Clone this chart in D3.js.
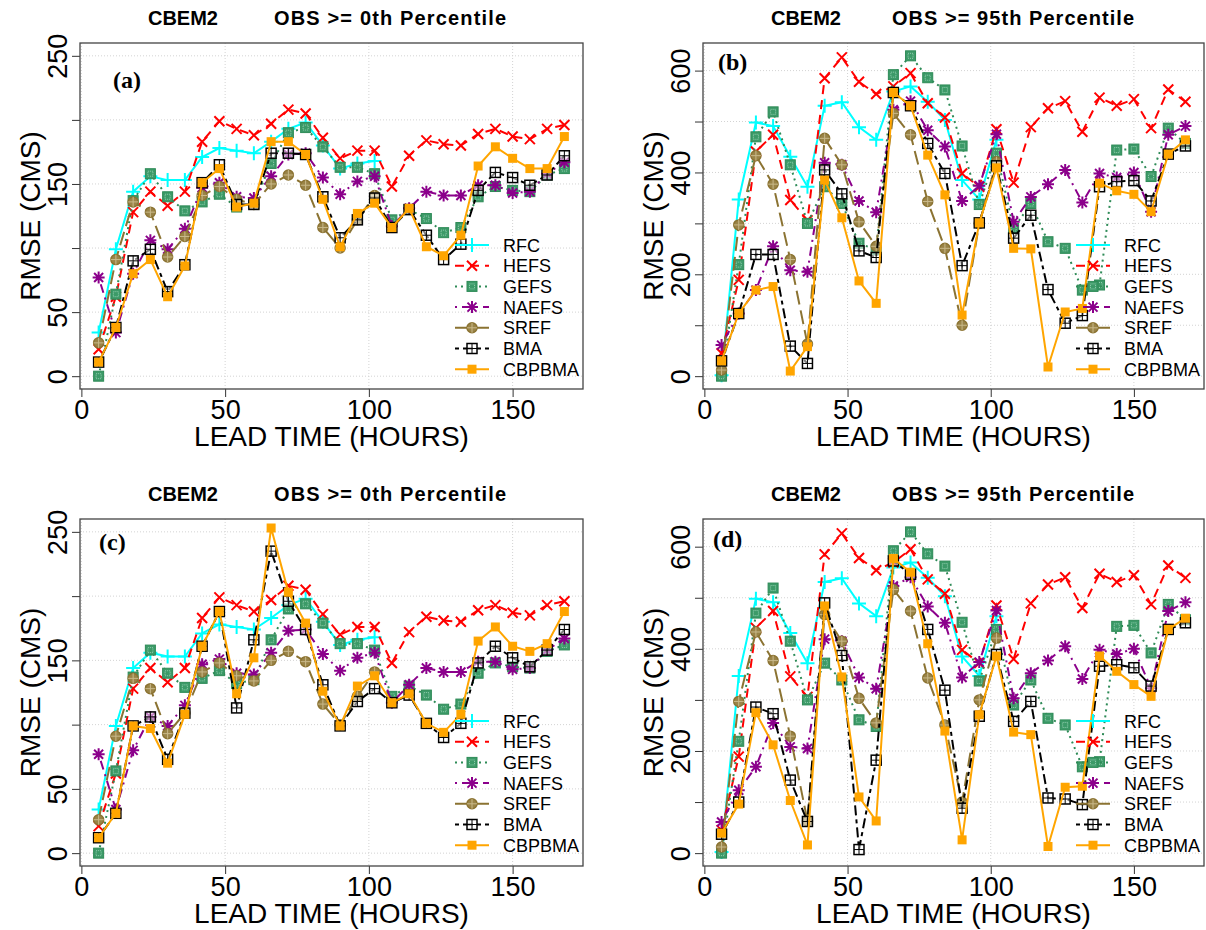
<!DOCTYPE html>
<html><head><meta charset="utf-8">
<script src="https://cdn.jsdelivr.net/npm/d3@7"></script>
<style>body{margin:0;background:#fff}svg{display:block}text{font-family:"Liberation Sans",Arial,sans-serif}</style>
</head><body><svg id="chart" width="1206" height="930"></svg>
<script>
const leadTimes = [6,12,18,24,30,36,42,48,54,60,66,72,78,84,90,96,102,108,114,120,126,132,138,144,150,156,162,168];
const seriesNames = ["RFC","HEFS","GEFS","NAEFS","SREF","BMA","CBPBMA"];
const xTicks = [0,50,100,150];

// 0th percentile (panels a, c)
const rfc0   = [34,99,144,156,153,153,171,178,176,174,183,193,198,180,162,166,168,null,null,null,null,null,null,null,null,null,null,null];
const hefs0  = [21,62,128,144,133,144,183,199,193,188,197,208,205,186,170,176,176,148,172,184,181,180,189,193,187,185,193,196];
const gefs0  = [0,64,137,158,140,129,136,142,132,135,166,190,194,179,163,163,158,122,130,123,112,116,140,148,145,144,157,162];
const naefs0 = [77,34,80,106,99,115,147,151,140,139,156,173,174,155,142,152,156,117,131,144,141,141,149,149,143,144,158,167];
const sref0  = [26,91,136,128,93,109,141,148,138,134,150,157,149,116,100,122,141,null,null,null,null,null,null,null,null,null,null,null];
const bma0a  = [11,38,90,99,66,87,151,165,134,134,174,174,173,140,108,122,139,116,130,110,91,103,145,159,155,149,157,172];
const cbp0a  = [11,38,80,91,62,86,151,162,132,135,183,183,173,138,101,127,135,116,131,101,94,110,164,179,170,162,162,187];
const bma0c  = [12,31,99,106,73,109,161,188,113,166,235,196,174,131,99,118,128,117,123,101,90,101,148,161,152,145,158,174];
const cbp0c  = [12,31,99,97,70,108,161,188,124,152,253,203,179,126,99,130,138,117,124,101,94,108,165,176,161,157,163,188];

// 95th percentile (panels b, d)
const rfc95   = [2,347,498,491,431,372,531,538,489,464,559,569,539,503,385,347,464,null,null,null,null,null,null,null,null,null,null,null];
const hefs95  = [45,189,441,474,346,306,585,626,578,554,569,595,536,508,398,372,485,380,489,526,540,480,547,531,544,487,563,539];
const gefs95  = [0,219,470,519,415,300,372,339,261,248,592,629,586,562,452,337,438,290,339,264,251,169,179,444,446,392,487,457];
const naefs95 = [61,123,169,255,208,205,419,415,344,322,523,540,483,451,344,374,475,303,352,377,405,341,398,390,400,323,474,491];
const sref95  = [12,297,433,377,229,63,467,415,303,255,516,474,343,251,100,300,421,null,null,null,null,null,null,null,null,null,null,null];
const bma95b  = [30,123,239,239,59,25,405,358,246,233,557,531,457,398,217,301,413,271,316,170,104,119,372,382,384,344,436,452];
const cbp95b  = [30,123,169,176,10,58,385,311,187,143,557,531,434,356,120,301,409,251,250,18,126,133,379,364,357,323,436,464];
const bma95d  = [37,100,286,273,143,62,490,387,7,182,572,546,438,319,88,268,389,258,297,108,106,95,366,369,363,327,438,451];
const cbp95d  = [39,96,275,212,103,16,484,345,110,63,577,550,410,239,26,271,386,237,232,13,129,131,386,356,330,307,438,460];

const yTicks0 = [0,50,100,150,200,250], yLabels0 = [0,50,150,250];
const yTicks95 = [0,100,200,300,400,500,600], yLabels95 = [0,200,400,600];

const styles = [
  {color:"#00ffff", dash:null, marker:"plus"},
  {color:"#ff0000", dash:"9,6", marker:"x"},
  {color:"#2e8b57", dash:"2,4", marker:"sqdot"},
  {color:"#8b008b", dash:"2,5,9,5", marker:"star"},
  {color:"#8b7332", dash:"14,6", marker:"circplus"},
  {color:"#000000", dash:"4,4,10,4", marker:"sqplus"},
  {color:"#ffa500", dash:null, marker:"square"}
];

const panels = [
  {tag:"(a)", left:80, right:583, top:43, bottom:389, ydom:[-10,260], yt:yTicks0, yl:yLabels0, t2:"OBS >= 0th Percentile", t2w:232,
   data:[rfc0,hefs0,gefs0,naefs0,sref0,bma0a,cbp0a], tagPos:[33,45]},
  {tag:"(b)", left:703, right:1204, top:43, bottom:389, ydom:[-25.2,654.2], yt:yTicks95, yl:yLabels95, t2:"OBS >= 95th Percentile", t2w:242,
   data:[rfc95,hefs95,gefs95,naefs95,sref95,bma95b,cbp95b], tagPos:[15,27]},
  {tag:"(c)", left:80, right:583, top:519, bottom:866, ydom:[-10,260], yt:yTicks0, yl:yLabels0, t2:"OBS >= 0th Percentile", t2w:232,
   data:[rfc0,hefs0,gefs0,naefs0,sref0,bma0c,cbp0c], tagPos:[19,31]},
  {tag:"(d)", left:703, right:1204, top:519, bottom:866, ydom:[-25.2,654.2], yt:yTicks95, yl:yLabels95, t2:"OBS >= 95th Percentile", t2w:242,
   data:[rfc95,hefs95,gefs95,naefs95,sref95,bma95d,cbp95d], tagPos:[10,28]}
];

const svg = d3.select("#chart");

function drawMarker(g, type, color, x, y) {
  const m = g.append("g").attr("transform", `translate(${x},${y})`);
  const s = 5;
  if (type === "plus") {
    m.append("path").attr("d", `M${-7},0H7M0,${-7}V7`).attr("stroke", color).attr("stroke-width", 2);
  } else if (type === "x") {
    m.append("path").attr("d", `M-5,-5L5,5M-5,5L5,-5`).attr("stroke", color).attr("stroke-width", 2);
  } else if (type === "sqdot") {
    m.append("rect").attr("x",-s).attr("y",-s).attr("width",2*s).attr("height",2*s).attr("fill","#3c9a68").attr("stroke",color).attr("stroke-width",1);
    m.append("rect").attr("x",-2.5).attr("y",-2.5).attr("width",5).attr("height",5).attr("fill","none").attr("stroke","#a8dcc0").attr("stroke-width",0.8).attr("stroke-dasharray","1,1");
  } else if (type === "star") {
    m.append("path").attr("d", `M-6,0H6M0,-6V6M-4.5,-4.5L4.5,4.5M-4.5,4.5L4.5,-4.5`).attr("stroke", color).attr("stroke-width", 2);
  } else if (type === "circplus") {
    m.append("circle").attr("r", 5).attr("fill", "#9a8448").attr("stroke", color).attr("stroke-width", 1.5);
    m.append("path").attr("d", `M-5,0H5M0,-5V5`).attr("stroke", "#c9b98a").attr("stroke-width", 1);
  } else if (type === "sqplus") {
    m.append("rect").attr("x",-s).attr("y",-s).attr("width",2*s).attr("height",2*s).attr("fill","#fff").attr("fill-opacity",0.5).attr("stroke",color).attr("stroke-width",1.5);
    m.append("path").attr("d", `M-5,0H5M0,-5V5`).attr("stroke", color).attr("stroke-width", 1);
  } else if (type === "square") {
    m.append("rect").attr("x",-4.5).attr("y",-4.5).attr("width",9).attr("height",9).attr("fill",color);
  }
}

panels.forEach(p => {
  const x = d3.scaleLinear().domain([-0.48, 174.48]).range([p.left, p.right]);
  const y = d3.scaleLinear().domain(p.ydom).range([p.bottom, p.top]);
  const g = svg.append("g");

  // grid
  g.selectAll(".gx").data(xTicks).join("line")
    .attr("x1", d => x(d)).attr("x2", d => x(d)).attr("y1", p.top).attr("y2", p.bottom)
    .attr("stroke", "#d3d3d3").attr("stroke-dasharray", "1,2");
  g.selectAll(".gy").data(p.yt).join("line")
    .attr("x1", p.left).attr("x2", p.right).attr("y1", d => y(d)).attr("y2", d => y(d))
    .attr("stroke", "#d3d3d3").attr("stroke-dasharray", "1,2");

  // axes
  const xa = g.append("g").attr("transform", `translate(0,${p.bottom})`)
    .call(d3.axisBottom(x).tickValues(xTicks).tickSize(8).tickPadding(3).tickFormat(d3.format("d")));
  xa.select(".domain").remove();
  xa.selectAll("text").attr("font-size", 27).attr("fill", "#000");
  xa.selectAll("line").attr("stroke", "#333");

  const ya = g.append("g").attr("transform", `translate(${p.left},0)`)
    .call(d3.axisLeft(y).tickValues(p.yt).tickSize(8).tickFormat(d => p.yl.includes(d) ? d : ""));
  ya.select(".domain").remove();
  ya.selectAll("line").attr("stroke", "#333");
  ya.selectAll("text").attr("font-size", 27).attr("fill", "#000")
    .attr("text-anchor", "middle").attr("dy", 0)
    .attr("x", 0).attr("y", 0)
    .attr("transform", "translate(-13,0) rotate(-90)");

  // box
  g.append("rect").attr("x", p.left).attr("y", p.top).attr("width", p.right - p.left).attr("height", p.bottom - p.top)
    .attr("fill", "none").attr("stroke", "#444").attr("stroke-width", 1.3);

  // series
  p.data.forEach((vals, i) => {
    const st = styles[i];
    const pts = leadTimes.map((t, k) => ({t, v: vals[k]})).filter(d => d.v !== null);
    const line = d3.line().x(d => x(d.t)).y(d => y(d.v));
    g.append("path").datum(pts).attr("d", line).attr("fill", "none")
      .attr("stroke", st.color).attr("stroke-width", 2)
      .attr("stroke-dasharray", st.dash);
    pts.forEach(d => drawMarker(g, st.marker, st.color, x(d.t), y(d.v)));
  });

  // legend
  const ly0 = p.top + 202, lsp = 20.7;
  seriesNames.forEach((name, i) => {
    const st = styles[i];
    const yy = ly0 + i * lsp;
    g.append("line").attr("x1", p.right - 128).attr("x2", p.right - 94).attr("y1", yy).attr("y2", yy)
      .attr("stroke", st.color).attr("stroke-width", 2).attr("stroke-dasharray", st.dash);
    drawMarker(g, st.marker, st.color, p.right - 111, yy);
    g.append("text").attr("x", p.right - 80).attr("y", yy + 6.5).attr("font-size", 18).text(name);
  });

  // tag
  g.append("text").attr("x", p.left + p.tagPos[0]).attr("y", p.top + p.tagPos[1])
    .attr("font-weight", "bold").attr("font-size", 24)
    .style("font-family", "'Liberation Serif', 'Times New Roman', serif").text(p.tag);

  // titles
  g.append("text").attr("x", p.left + 103).attr("y", p.top - 18).attr("text-anchor", "middle")
    .attr("font-weight", "bold").attr("font-size", 20).text("CBEM2");
  g.append("text").attr("x", p.left + 310).attr("y", p.top - 18).attr("text-anchor", "middle")
    .attr("font-weight", "bold").attr("font-size", 20)
    .attr("textLength", p.t2w).attr("lengthAdjust", "spacing").text(p.t2);

  // axis titles
  g.append("text").attr("x", (p.left + p.right) / 2).attr("y", p.bottom + 57).attr("text-anchor", "middle")
    .attr("font-size", 28).text("LEAD TIME (HOURS)");
  g.append("text").attr("transform", `translate(${p.left - 40},${(p.top + p.bottom) / 2}) rotate(-90)`)
    .attr("text-anchor", "middle").attr("font-size", 28).text("RMSE (CMS)");
});
</script></body></html>
